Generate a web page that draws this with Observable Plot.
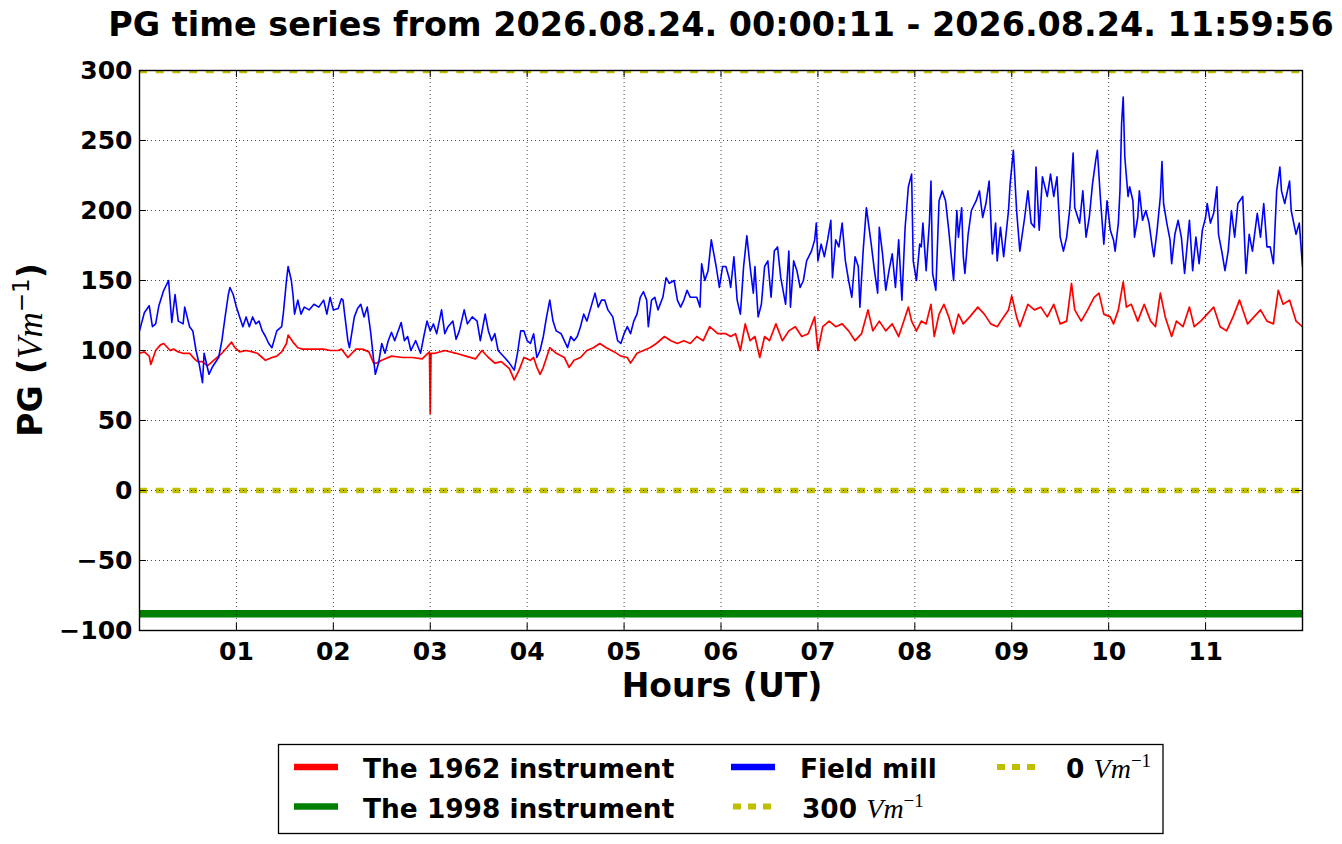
<!DOCTYPE html>
<html>
<head>
<meta charset="utf-8">
<script src="https://cdn.jsdelivr.net/npm/d3@7"></script>
<script src="https://cdn.jsdelivr.net/npm/@observablehq/plot@0.6"></script>
<style>
  body { margin: 0; background: #fff; font-family: "DejaVu Sans", sans-serif; }
  #wrap { position: relative; width: 1342px; height: 844px; overflow: hidden; }
  #title { position: absolute; left: 100px; top: 8px; width: 1242px; text-align: center;
           font: bold 33.4px/33px "DejaVu Sans", sans-serif; color: #000; white-space: nowrap; }
  #chart { position: absolute; left: 0; top: 0; }
  #legend { position: absolute; left: 0; top: 720px; }
</style>
</head>
<body>
<div id="wrap">
  <div id="chart"></div>
  <div id="title">PG time series from 2026.08.24. 00:00:11 - 2026.08.24. 11:59:56</div>
  <svg id="legend" width="1342" height="124"></svg>
</div>
<script>
// ---------- data (time in minutes after 00:00 UT, PG in V/m) ----------
const instrument1962 = [
[0,98],[3,99],[6,96],[7,90],[10,100],[13,104],[15,105],[19,100],[21,101],[24,99],[27,98],[31,98],[34,94],[36,92],[39,92],[42,89],[44,91],[47,94],[51,98],[54,102],[57,106],[59,102],[62,99],[66,100],[70,99],[73,98],[76,95],[78,93],[82,95],[85,96],[88,99],[91,105],[92,111],[95,106],[98,102],[101,101],[105,101],[109,101],[114,101],[118,100],[123,100],
[125,101],[129,95],[134,101],[138,101],[142,99],[145,91],[147,91],[150,93],[156,96],[163,95],[169,95],[175,94],[179.5,99],[180,55],[180.5,98],[183,98],[189,100],[196,98],[202,96],[208,94],[212,100],[216,95],[220,91],[224,92],[229,87],[232,79],[235,86],[238,95],
[242,93],[244,95],[246,88],[248,83],[250,88],[254,102],[258,98],[263,95],[266,88],[269,93],[273,95],[277,100],[281,102],[285,105],[289,102],[294,99],[298,96],[302,95],[304,91],[308,98],[312,100],[316,102],[320,105],[325,110],[329,107],[333,105],[337,107],[341,105],[345,110],[349,107],[353,117],[358,112],
[363,112],[366,110],[369,112],[372,100],[375,119],[378,107],[381,110],[384,95],[387,110],[390,107],[394,119],[398,107],[402,114],[406,117],[410,110],[414,112],[418,124],[420,100],[423,117],[427,121],[431,117],[435,119],[439,114],[443,107],[447,112],[451,129],[454,114],[458,121],[462,114],[466,119],[470,110],[474,124],[476,131],[478,121],[481,114],
[484,121],[487,119],[490,133],[492,110],[495,126],[498,133],[501,124],[504,112],[507,126],[510,119],[514,124],[519,131],[523,126],[527,119],[531,117],[535,124],[538,129],[540,139],[543,124],[545,117],[550,133],[554,129],[558,131],[562,124],[566,133],[570,119],[574,121],[577,148],[579,129],[583,121],[587,129],[591,138],[594,141],[597,126],
[601,124],[603,119],[606,129],[609,149],[611,131],[614,133],[618,121],[622,133],[626,121],[629,117],[632,141],[635,124],[639,110],[642,121],[646,117],[650,131],[653,117],[657,121],[661,126],[665,131],[669,117],[673,114],[677,124],[681,136],[686,119],[690,124],[694,129],[698,121],[702,119],[705,143],[708,133],[712,136],[716,121],[720,117]
];

const fieldMill = [
[0,114],[3,127],[6,132],[8,117],[10,119],[12,132],[15,143],[18,150],[20,120],[22,140],[24,121],[27,119],[28,131],[31,117],[33,114],[35,100],[37,90],[39,77],[40,98],[43,83],[45,88],[49,95],[51,107],[53,124],[55,140],[56,145],[58,140],[60,131],[62,124],[64,117],[66,124],[68,117],[70,124],[72,119],[74,121],[76,114],[78,110],[80,105],[82,102],[85,114],[88,117],[89,126],[91,150],[92,160],[94,150],[95,140],[96,126],[98,136],[100,126],[102,131],[105,129],[108,133],[111,131],[114,136],[116,126],[118,138],[120,129],
[123,130],[125,137],[126,136],[127,126],[129,107],[130,102],[133,124],[135,130],[137,133],[139,124],[141,131],[143,114],[145,93],[146,83],[148,91],[150,105],[152,98],[154,107],[156,113],[158,107],[162,120],[164,107],[166,110],[168,100],[171,107],[174,98],[176,110],[178,121],[180,114],[182,119],[184,112],[187,129],[189,112],[191,117],[194,121],[196,108],[198,114],[201,129],[203,119],[206,124],[209,121],[211,107],[214,126],[216,114],[218,107],[220,112],[222,100],[226,95],[229,91],[232,86],[234,98],[236,114],[238,114],[240,107],
[242,105],[244,112],[246,95],[248,100],[250,110],[252,124],[254,136],[256,121],[258,114],[261,112],[263,107],[265,102],[267,110],[269,107],[271,110],[273,117],[275,126],[277,121],[279,129],[282,141],[284,131],[286,136],[288,136],[290,129],[293,124],[296,107],[298,105],[300,112],[302,117],[304,112],[306,121],[308,126],[310,138],[312,142],[314,136],[315,117],[317,136],[319,138],[321,129],[324,138],[326,152],[328,148],[331,150],[333,136],[335,131],[337,136],[339,143],[341,138],[343,138],[345,138],[347,131],[348,162],[350,150],[352,157],[354,179],[357,160],[359,145],[361,160],
[363,160],[365,152],[366,145],[368,167],[370,136],[372,126],[374,160],[376,182],[378,160],[380,141],[381,160],[383,124],[385,133],[387,160],[389,164],[391,138],[393,171],[395,174],[397,152],[400,133],[402,171],[403,131],[405,164],[407,157],[409,145],[411,150],[413,164],[416,171],[418,179],[419,191],[420,164],[422,176],[424,167],[426,179],[428,193],[429,152],[431,179],[433,174],[435,191],[437,164],[439,150],[441,138],[443,167],[445,160],[446,131],[448,171],[450,202],[453,176],[455,157],[457,141],[458,188],[460,169],[462,143],[464,157],[466,169],[468,145],[470,179],[472,136],[474,188],[476,217],[478,226],[479,164],[481,150],[483,176],
[484,174],[485,191],[487,157],[489,191],[490,221],[491,155],[493,143],[495,207],[497,214],[499,207],[501,186],[502,174],[504,150],[506,200],[507,181],[509,202],[510,167],[511,155],[513,183],[515,200],[518,207],[520,214],[522,195],[524,205],[526,221],[528,169],[530,191],[531,164],[533,188],[535,167],[538,200],[539,219],[541,243],[543,200],[545,171],[548,195],[550,214],[552,191],[554,188],[555,231],[557,186],[559,224],[562,210],[564,226],[566,210],[568,224],[570,181],[572,171],[574,181],[576,202],[578,241],[579,202],[582,191],[584,214],[586,181],[588,195],[590,219],[592,236],[593,243],[595,207],[597,176],[599,207],
[601,186],[603,179],[604,171],[606,191],[607,214],[608,262],[609,281],[610,238],[612,210],[613,217],[615,207],[616,181],[618,195],[619,214],[621,193],[623,200],[625,191],[627,174],[628,167],[630,186],[632,210],[633,235],[634,205],[636,191],[638,179],[639,162],[641,183],[643,193],[645,181],[647,155],[650,193],[652,157],[654,181],[656,162],[658,186],[660,195],[661,205],[663,191],[665,198],[667,217],[668,183],[670,171],[672,157],[674,171],[676,200],[678,181],[680,205],[683,210],[685,155],[687,183],[689,171],[692,198],[694,181],[696,205],[698,174],[700,174],[702,162],[704,214],[706,231],[707,214],[709,205],[712,221],[713,200],[716,183],[718,191],[720,160]
];

const instrument1998Level = [-88];
const referenceLevels = [0, 300];
const xTicks = [1,2,3,4,5,6,7,8,9,10,11];
const yTicks = [-100,-50,0,50,100,150,200,250,300];
const xDomain = [0, 12];
const yDomain = [-100, 300];

// ---------- build ----------
const toRows = arr => arr.map(([m, v]) => ({h: m / 60, v}));
const red = toRows(instrument1962);
const blue = toRows(fieldMill);
const yellow = "#bfbf00";
const gridStyle = {stroke: "#000", strokeWidth: 0.9, strokeDasharray: "1,3", strokeOpacity: 0.8};
const fmtY = d => d < 0 ? "\u2212" + Math.abs(d) : String(d);
const fmtX = d => String(d).padStart(2, "0");

const chart = Plot.plot({
  width: 1342,
  height: 720,
  marginLeft: 139,
  marginRight: 40,
  marginTop: 70,
  marginBottom: 90,
  style: {fontFamily: "DejaVu Sans", background: "white", color: "black"},
  x: {domain: xDomain},
  y: {domain: yDomain},
  marks: [
    Plot.line(red, {x: "h", y: "v", stroke: "#ff0000", strokeWidth: 1.7, clip: true}),
    Plot.ruleY(instrument1998Level, {stroke: "#008000", strokeWidth: 7.5}),
    Plot.line(blue, {x: "h", y: "v", stroke: "#0000ff", strokeWidth: 1.6, clip: true}),
    Plot.ruleY([referenceLevels[1]], {stroke: yellow, strokeWidth: 5.5, strokeDasharray: "8,8.7", clip: true}),
    Plot.ruleY([referenceLevels[0]], {stroke: yellow, strokeWidth: 5.5, strokeDasharray: "8,8.7", clip: true}),
    Plot.ruleX(xTicks, gridStyle),
    Plot.ruleY(yTicks.filter(d => d > yDomain[0] && d < yDomain[1]), gridStyle),
    // inward tick marks on all four sides
    Plot.ruleX(xTicks, {y1: yDomain[0], y2: yDomain[0] + 5, stroke: "#000", strokeWidth: 1}),
    Plot.ruleX(xTicks, {y1: yDomain[1], y2: yDomain[1] - 5, stroke: "#000", strokeWidth: 1}),
    Plot.ruleY(yTicks, {x1: xDomain[0], x2: xDomain[0] + 0.072, stroke: "#000", strokeWidth: 1}),
    Plot.ruleY(yTicks, {x1: xDomain[1], x2: xDomain[1] - 0.072, stroke: "#000", strokeWidth: 1}),
    Plot.frame({stroke: "#000", strokeWidth: 1.4}),
    Plot.axisX({ticks: xTicks, tickFormat: fmtX, tickSize: 0, tickPadding: 12, fontSize: 25, fontWeight: "bold", fill: "#000", label: null}),
    Plot.axisY({ticks: yTicks, tickFormat: fmtY, tickSize: 0, tickPadding: 7, fontSize: 25, fontWeight: "bold", fill: "#000", label: null})
  ]
});
document.getElementById("chart").appendChild(chart);

// axis titles
const svg = d3.select(chart);
svg.append("text")
  .attr("x", 722).attr("y", 697)
  .attr("text-anchor", "middle")
  .attr("font-family", "DejaVu Sans").attr("font-weight", "bold").attr("font-size", 33)
  .attr("fill", "#000")
  .text("Hours (UT)");

const yl = svg.append("text")
  .attr("transform", "translate(42,350) rotate(-90)")
  .attr("text-anchor", "middle")
  .attr("font-family", "DejaVu Sans").attr("font-size", 33).attr("fill", "#000");
yl.append("tspan").attr("font-weight", "bold").text("PG (");
yl.append("tspan").attr("font-family", "Liberation Serif").attr("font-style", "italic").attr("font-size", 35).text("Vm");
yl.append("tspan").attr("font-size", 23).attr("dy", -13).text("\u22121");
yl.append("tspan").attr("font-weight", "bold").attr("dy", 13).text(")");

// ---------- legend ----------
const lg = d3.select("#legend");
const oy = 720;
lg.append("rect").attr("x", 278.5).attr("y", 744.5 - oy).attr("width", 884.5).attr("height", 89)
  .attr("fill", "white").attr("stroke", "#000").attr("stroke-width", 1.3);

const legendItems = [
  {x: 294, row: 0, color: "#ff0000", dash: null, label: [["The 1962 instrument"]]},
  {x: 294, row: 1, color: "#008000", dash: null, label: [["The 1998 instrument"]]},
  {x: 731, row: 0, color: "#0000ff", dash: null, label: [["Field mill"]]},
  {x: 733, row: 1, color: yellow, dash: "8,7", label: [["300 "], ["Vm", "math"], ["\u22121", "sup"]]},
  {x: 997, row: 0, color: yellow, dash: "8,7", label: [["0 "], ["Vm", "math"], ["\u22121", "sup"]]}
];
const rowLineY = [767, 806.5];
const rowTextY = [778, 817.5];
const textOffset = 69;
legendItems.forEach(it => {
  lg.append("line")
    .attr("x1", it.x).attr("x2", it.x + (it.dash ? 38 : 44))
    .attr("y1", rowLineY[it.row] - oy).attr("y2", rowLineY[it.row] - oy)
    .attr("stroke", it.color).attr("stroke-width", it.dash ? 6 : 6.5)
    .attr("stroke-dasharray", it.dash);
  const t = lg.append("text")
    .attr("x", it.x + textOffset).attr("y", rowTextY[it.row] - oy)
    .attr("font-family", "DejaVu Sans").attr("font-size", 26.4).attr("font-weight", "bold").attr("fill", "#000");
  it.label.forEach(([s, kind]) => {
    const sp = t.append("tspan").text(s);
    if (kind === "math") sp.attr("font-family", "Liberation Serif").attr("font-style", "italic").attr("font-weight", "normal").attr("font-size", 28);
    if (kind === "sup") sp.attr("font-family", "Liberation Serif").attr("font-weight", "normal").attr("font-size", 19).attr("dy", -11);
  });
});
</script>
</body>
</html>
